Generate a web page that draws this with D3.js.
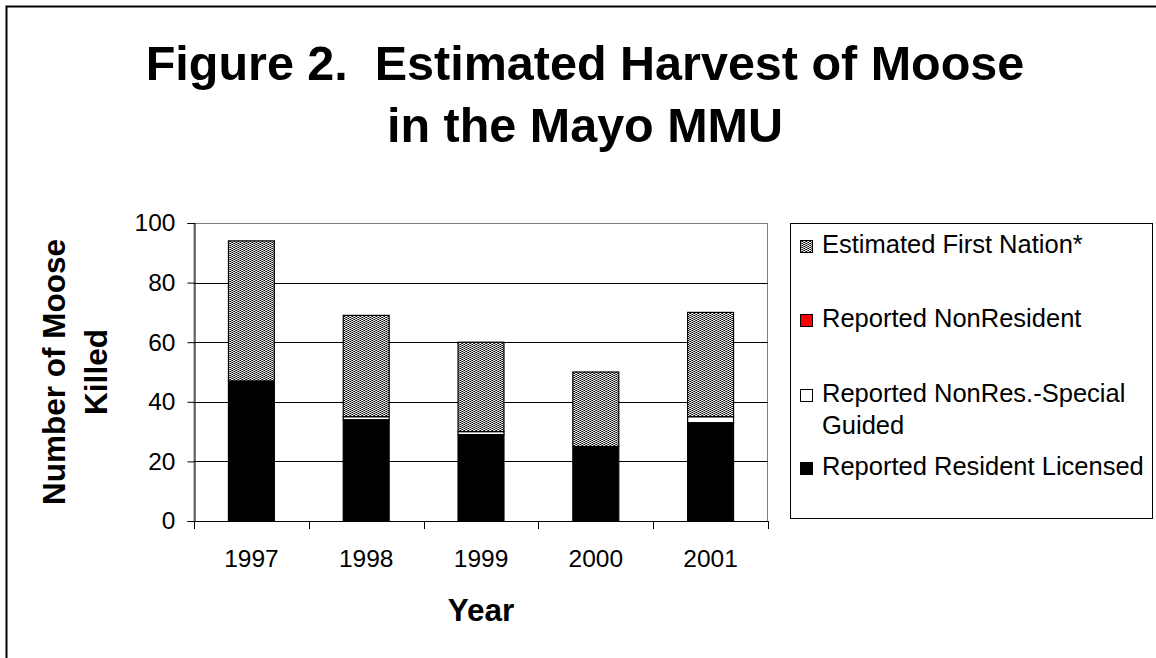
<!DOCTYPE html>
<html>
<head>
<meta charset="utf-8">
<script src="https://cdn.jsdelivr.net/npm/d3@7"></script>
<style>
  html, body { margin: 0; padding: 0; background: #fff; }
  svg { display: block; font-family: "Liberation Sans", Arial, sans-serif; }
  text { white-space: pre; }
</style>
</head>
<body>
<svg id="chart" width="1156" height="658"></svg>
<script>
// ---- data ----
const years = ["1997", "1998", "1999", "2000", "2001"];
const residentLicensed = [47, 34, 29, 25, 33];
const nonResSpecialGuided = [0, 1, 1, 0, 2];
const nonResident = [0, 0, 0, 0, 0];
const firstNation = [47, 34, 30, 25, 35];
const yTicks = [0, 20, 40, 60, 80, 100];
const titleLines = ["Figure 2.  Estimated Harvest of Moose", "in the Mayo MMU"];
const yTitleLines = ["Number of Moose", "Killed"];
const xTitle = "Year";
const legendLabels = [["Estimated First Nation*"], ["Reported NonResident"], ["Reported NonRes.-Special", "Guided"], ["Reported Resident Licensed"]];

// ---- layout ----
const W = 1156, H = 658;
const plot = { left: 194, right: 768, top: 223, bottom: 521 };
const svg = d3.select("#chart");

const defs = svg.append("defs");
const pat = defs.append("pattern").attr("id", "dots").attr("patternUnits", "userSpaceOnUse")
  .attr("width", 4).attr("height", 4);
pat.append("rect").attr("width", 4).attr("height", 4).attr("fill", "#fff");
[[0,0],[2,1],[0,2],[2,3]].forEach(([px,py]) =>
  pat.append("rect").attr("x", px).attr("y", py).attr("width", 1).attr("height", 1).attr("fill", "#000"));
[[1,1],[3,0],[1,3],[3,2]].forEach(([px,py]) =>
  pat.append("rect").attr("x", px).attr("y", py).attr("width", 1).attr("height", 1).attr("fill", "#5a5a5a"));
[[1,0],[3,1],[1,2],[3,3]].forEach(([px,py]) =>
  pat.append("rect").attr("x", px).attr("y", py).attr("width", 1).attr("height", 1).attr("fill", "#c8c8c8"));

const fills = ["#000000", "#ffffff", "#ff0000", "url(#dots)"];

// outer frame
svg.append("rect").attr("x", 6.5).attr("y", 6.5).attr("width", W + 20).attr("height", H + 20)
  .attr("fill", "#fff").attr("stroke", "#000").attr("stroke-width", 2);

// title
svg.append("g").selectAll("text").data(titleLines).join("text")
  .attr("x", 585).attr("y", (d, i) => 80 + i * 62)
  .attr("text-anchor", "middle").attr("font-size", 48.5).attr("font-weight", "bold")
  .text(d => d);

// scales
const x = d3.scaleBand().domain(years).range([plot.left, plot.right]).paddingInner(0.6).paddingOuter(0.3);
const y = d3.scaleLinear().domain([0, 100]).range([plot.bottom, plot.top]);

// plot area border (grey)
svg.append("rect").attr("x", plot.left).attr("y", plot.top + 0.5)
  .attr("width", plot.right - plot.left - 0.5).attr("height", plot.bottom - plot.top)
  .attr("fill", "none").attr("stroke", "#808080").attr("stroke-width", 1);

// gridlines
svg.append("g").selectAll("line").data(yTicks.filter(t => t > 0 && t < 100)).join("line")
  .attr("x1", plot.left).attr("x2", plot.right)
  .attr("y1", d => Math.round(y(d)) + 0.5).attr("y2", d => Math.round(y(d)) + 0.5)
  .attr("stroke", "#000").attr("stroke-width", 1);

// stacked bars
const table = years.map((yr, i) => ({
  year: yr,
  s0: residentLicensed[i], s1: nonResSpecialGuided[i], s2: nonResident[i], s3: firstNation[i]
}));
const stack = d3.stack().keys(["s0", "s1", "s2", "s3"]);
const layers = stack(table);
svg.append("g").selectAll("g").data(layers).join("g")
  .attr("fill", (d, i) => fills[i])
  .selectAll("rect").data(d => d.filter(p => p[1] - p[0] > 0)).join("rect")
  .attr("x", d => x(d.data.year))
  .attr("width", x.bandwidth())
  .attr("y", d => y(d[1]))
  .attr("height", d => y(d[0]) - y(d[1]))
  .attr("stroke", "#000").attr("stroke-width", 1.2);

// y axis
const yAxis = svg.append("g").attr("transform", `translate(${plot.left + 0.5},0)`)
  .call(d3.axisLeft(y).tickValues(yTicks).tickSize(7).tickPadding(12));
yAxis.select(".domain").attr("stroke", "#000");
yAxis.selectAll(".tick line").attr("stroke", "#000");
yAxis.selectAll("text").attr("font-size", 24.5).attr("fill", "#000")
  .attr("font-family", "Liberation Sans, Arial, sans-serif");

// x axis
const xAxis = svg.append("g").attr("transform", `translate(0,${plot.bottom + 0.5})`)
  .call(d3.axisBottom(x).tickSize(0).tickPadding(28));
xAxis.select(".domain").attr("stroke", "#000").attr("d", `M${plot.left},0H${plot.right}`);
xAxis.selectAll("text").attr("font-size", 24.5).attr("fill", "#000")
  .attr("font-family", "Liberation Sans, Arial, sans-serif");
// category boundary ticks
const step = x.step();
const boundaries = years.map(yr => x(yr) - x.paddingOuter() * step).concat([plot.right]);
svg.append("g").selectAll("line").data(boundaries).join("line")
  .attr("x1", d => Math.round(d) + 0.5).attr("x2", d => Math.round(d) + 0.5)
  .attr("y1", plot.bottom).attr("y2", plot.bottom + 8)
  .attr("stroke", "#000");

// axis titles
svg.append("g").attr("transform", "translate(65,372) rotate(-90)")
  .selectAll("text").data(yTitleLines).join("text")
  .attr("x", 0).attr("y", (d, i) => i * 42)
  .attr("text-anchor", "middle").attr("font-size", 31.5).attr("font-weight", "bold")
  .text(d => d);
svg.append("text").attr("x", (plot.left + plot.right) / 2).attr("y", 621)
  .attr("text-anchor", "middle").attr("font-size", 31.5).attr("font-weight", "bold")
  .text(xTitle);

// legend
const lg = svg.append("g");
lg.append("rect").attr("x", 790.5).attr("y", 223.5).attr("width", 362).attr("height", 295)
  .attr("fill", "#fff").attr("stroke", "#000").attr("stroke-width", 1);
const legendItems = [
  { lines: legendLabels[0], fill: fills[3], base: 253 },
  { lines: legendLabels[1], fill: fills[2], base: 327 },
  { lines: legendLabels[2], fill: fills[1], base: 402 },
  { lines: legendLabels[3], fill: fills[0], base: 475 }
];
const li = lg.selectAll("g.item").data(legendItems).join("g").attr("class", "item");
li.append("rect").attr("x", 800.5).attr("y", d => d.base - 12.5).attr("width", 12).attr("height", 12)
  .attr("fill", d => d.fill).attr("stroke", "#000").attr("stroke-width", 1);
li.each(function(d) {
  d3.select(this).selectAll("text").data(d.lines).join("text")
    .attr("x", 822).attr("y", (t, i) => d.base + i * 32)
    .attr("font-size", 25.5).attr("fill", "#000")
    .text(t => t);
});
</script>
</body>
</html>
